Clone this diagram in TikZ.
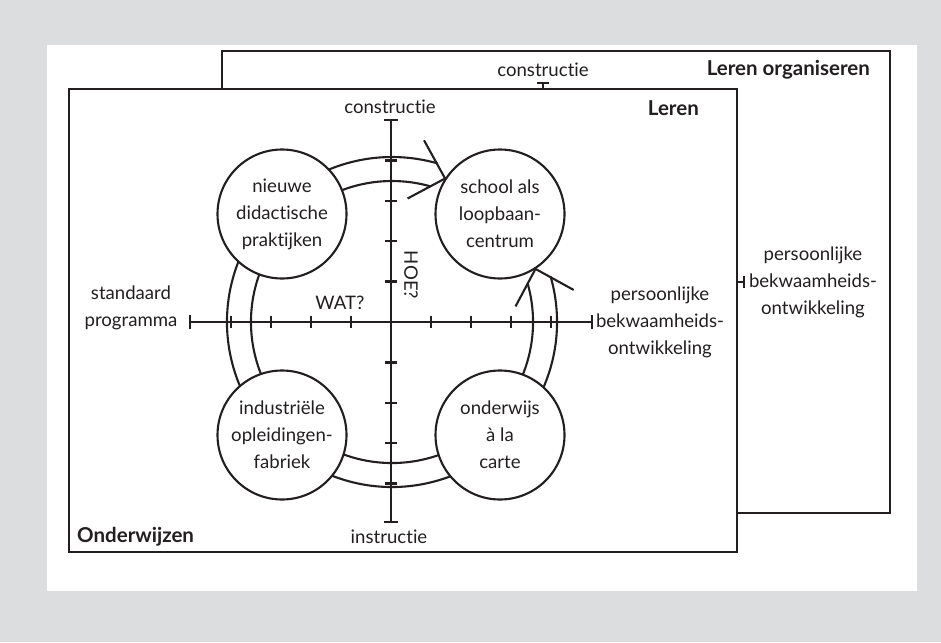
\documentclass[tikz,border=0pt]{standalone}
\usepackage{fontspec}
\setmainfont{Lato}[Ligatures={NoCommon,NoRare}]
\usetikzlibrary{calc}
\definecolor{ink}{RGB}{35,31,32}
\definecolor{panel}{RGB}{220,221,223}
\newcommand\lblfont{\fontsize{18.6}{27}\selectfont}
\newcommand\ttlfont{\fontsize{20.5}{24}\selectfont\bfseries}
\tikzset{
  frame/.style={draw=ink, line width=2.7pt, fill=white},
  axisline/.style={draw=ink, line width=2.5pt},
  tickmark/.style={draw=ink, line width=2.3pt},
  ring/.style={draw=ink, line width=2.1pt},
  barb/.style={draw=ink, line width=2.1pt, line join=miter},
  stage/.style={circle, draw=ink, line width=2.1pt, fill=white, minimum size=129pt,
    inner sep=0pt, align=center, font=\lblfont, text=ink},
  lbl/.style={text=ink, font=\lblfont, align=center, inner sep=0pt},
  ttl/.style={text=ink, font=\ttlfont, inner sep=0pt},
}
\begin{document}
\begin{tikzpicture}[x=1pt,y=-1pt]
% page and panel
\fill[panel] (0,0) rectangle (941,642);
\fill[white] (47,45) rectangle (917,591);
\useasboundingbox (0,0) rectangle (941,642);

% back plane: Leren organiseren
\path[frame] (222,51) rectangle (890,513);
\node[lbl] (backtop) at (543,70) {constructie};
\node[ttl, anchor=east] (backtitle) at (870,70) {Leren organiseren};
\node[lbl] (backright) at (813,282) {persoonlijke\\bekwaamheids-\\ontwikkeling};

% front plane
\path[frame] (69,89) rectangle (737,552);

% stubs of the back plane's axes
\draw[axisline] (543,89) -- (543,83);
\draw[tickmark] (537,83) -- (549,83);
\draw[axisline] (737,282) -- (744,282);
\draw[tickmark] (744,276) -- (744,288);

% axes of the front plane
\coordinate (O) at (391,322);
\draw[axisline] (190,322) -- (592,322);
\draw[axisline] (391,120) -- (391,522);
\foreach \k in {-4,-3,-2,-1,1,2,3,4}{
  \draw[tickmark] ($(O)+(40*\k,-6)$) -- ($(O)+(40*\k,6)$);
  \draw[tickmark] ($(O)+(-6,40.4*\k)$) -- ($(O)+(6,40.4*\k)$);
}
\draw[tickmark] (190,315) -- (190,329);
\draw[tickmark] (592,315) -- (592,329);
\draw[tickmark] (384,120) -- (398,120);
\draw[tickmark] (384,522) -- (398,522);

% the double ring
\coordinate (C) at (392,322);
\draw[ring] (C) ++(-16:165) arc[start angle=-16, end angle=286, radius=165];
\draw[ring] (C) ++(-16:141) arc[start angle=-16, end angle=286, radius=141];

% the four stages
\node[stage] (didactic) at (282,214) {nieuwe\\didactische\\praktijken};
\node[stage] (career) at (500,214) {school als\\loopbaan-\\centrum};
\node[stage] (factory) at (282,435) {industriële\\opleidingen-\\fabriek};
\node[stage] (carte) at (500,435) {onderwijs\\à la\\carte};

% open arrow heads of the ring, both pointing into the career centre
\coordinate (tipA) at ($(C)+(-69.7:153)$);
\coordinate (barbA1) at ($(C)+(-80:184.5)$);
\coordinate (barbA2) at ($(C)+(-82.8:124.5)$);
\coordinate (tipB) at ($(C)+(-20.3:153)$);
\coordinate (barbB1) at ($(C)+(-10:184.5)$);
\coordinate (barbB2) at ($(C)+(-7.2:124.5)$);
\draw[barb] (barbA1) -- (tipA) -- (barbA2);
\draw[barb] (barbB1) -- (tipB) -- (barbB2);

% labels of the front plane
\node[lbl] (fronttop) at (390,107) {constructie};
\node[ttl, anchor=east] (fronttitle) at (699,108) {Leren};
\node[ttl, anchor=west] (frontbase) at (77,537) {Onderwijzen};
\node[lbl] (frontbottom) at (389,537) {instructie};
\node[lbl] (frontleft) at (131,308) {standaard\\programma};
\node[lbl] (frontright) at (660,322) {persoonlijke\\bekwaamheids-\\ontwikkeling};
\node[lbl] (what) at (340,303) {WAT?};
\node[lbl, rotate=-90] (how) at (411,275) {HOE?};
\end{tikzpicture}
\end{document}
